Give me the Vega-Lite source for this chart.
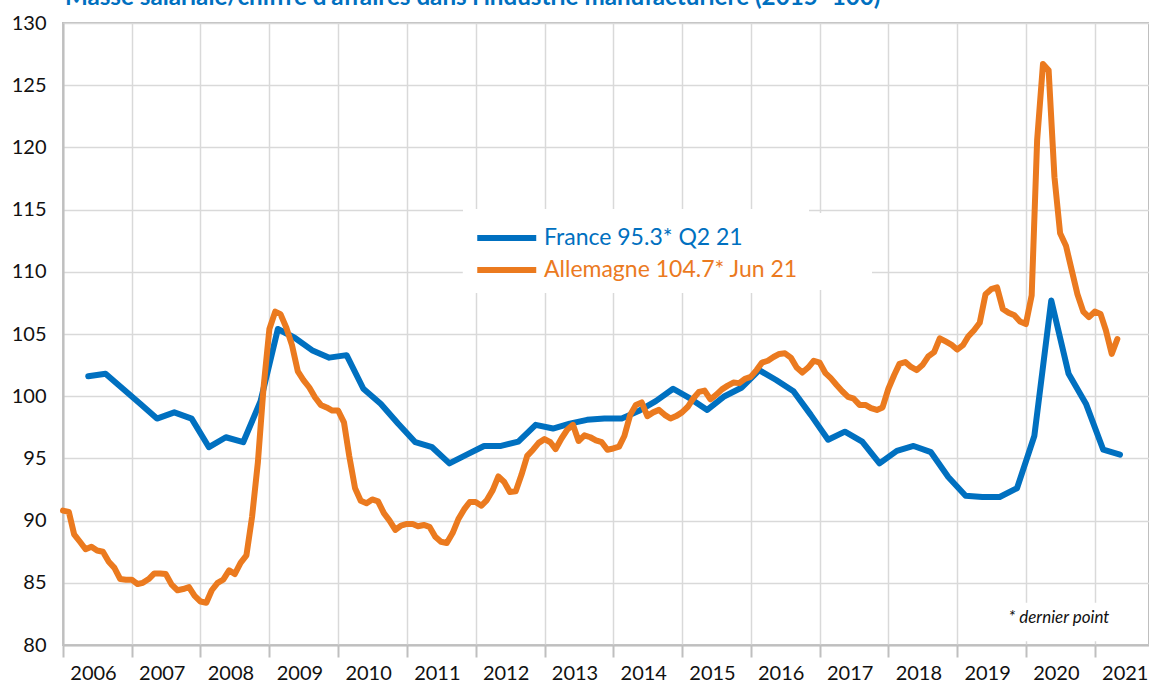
{
"$schema": "https://vega.github.io/schema/vega-lite/v6.json",
"width": 1086, "height": 622,
"autosize": {"type": "none"},
"padding": {"left": 63, "top": 23, "right": 0, "bottom": 38},
"background": "white",
"config": {"font": "Lato", "view": {"stroke": "#bfbfbf", "strokeWidth": 2}},
"data": {"values": [
{"d":"2006-05-15","s":"FR","v":101.6},{"d":"2006-08-15","s":"FR","v":101.8},{"d":"2006-11-15","s":"FR","v":100.6},
{"d":"2007-02-15","s":"FR","v":99.4},{"d":"2007-05-15","s":"FR","v":98.2},{"d":"2007-08-15","s":"FR","v":98.7},{"d":"2007-11-15","s":"FR","v":98.2},
{"d":"2008-02-15","s":"FR","v":95.9},{"d":"2008-05-15","s":"FR","v":96.7},{"d":"2008-08-15","s":"FR","v":96.3},{"d":"2008-11-15","s":"FR","v":99.6},
{"d":"2009-02-15","s":"FR","v":105.4},{"d":"2009-05-15","s":"FR","v":104.7},{"d":"2009-08-15","s":"FR","v":103.7},{"d":"2009-11-15","s":"FR","v":103.1},
{"d":"2010-02-15","s":"FR","v":103.3},{"d":"2010-05-15","s":"FR","v":100.6},{"d":"2010-08-15","s":"FR","v":99.4},{"d":"2010-11-15","s":"FR","v":97.8},
{"d":"2011-02-15","s":"FR","v":96.3},{"d":"2011-05-15","s":"FR","v":95.9},{"d":"2011-08-15","s":"FR","v":94.6},{"d":"2011-11-15","s":"FR","v":95.3},
{"d":"2012-02-15","s":"FR","v":96.0},{"d":"2012-05-15","s":"FR","v":96.0},{"d":"2012-08-15","s":"FR","v":96.35},{"d":"2012-11-15","s":"FR","v":97.7},
{"d":"2013-02-15","s":"FR","v":97.4},{"d":"2013-05-15","s":"FR","v":97.8},{"d":"2013-08-15","s":"FR","v":98.1},{"d":"2013-11-15","s":"FR","v":98.2},
{"d":"2014-02-15","s":"FR","v":98.2},{"d":"2014-05-15","s":"FR","v":98.8},{"d":"2014-08-15","s":"FR","v":99.6},{"d":"2014-11-15","s":"FR","v":100.6},
{"d":"2015-02-15","s":"FR","v":99.8},{"d":"2015-05-15","s":"FR","v":98.9},{"d":"2015-08-15","s":"FR","v":100.0},{"d":"2015-11-15","s":"FR","v":100.7},
{"d":"2016-02-15","s":"FR","v":102.1},{"d":"2016-05-15","s":"FR","v":101.3},{"d":"2016-08-15","s":"FR","v":100.4},{"d":"2016-11-15","s":"FR","v":98.5},
{"d":"2017-02-15","s":"FR","v":96.5},{"d":"2017-05-15","s":"FR","v":97.15},{"d":"2017-08-15","s":"FR","v":96.35},{"d":"2017-11-15","s":"FR","v":94.6},
{"d":"2018-02-15","s":"FR","v":95.6},{"d":"2018-05-15","s":"FR","v":96.0},{"d":"2018-08-15","s":"FR","v":95.5},{"d":"2018-11-15","s":"FR","v":93.5},
{"d":"2019-02-15","s":"FR","v":92.0},{"d":"2019-05-15","s":"FR","v":91.9},{"d":"2019-08-15","s":"FR","v":91.9},{"d":"2019-11-15","s":"FR","v":92.6},
{"d":"2020-02-15","s":"FR","v":96.8},{"d":"2020-05-15","s":"FR","v":107.7},{"d":"2020-08-15","s":"FR","v":101.8},{"d":"2020-11-15","s":"FR","v":99.4},
{"d":"2021-02-15","s":"FR","v":95.7},{"d":"2021-05-15","s":"FR","v":95.3},
{"d":"2006-01-01","s":"DE","v":90.8},{"d":"2006-02-01","s":"DE","v":90.7},{"d":"2006-03-01","s":"DE","v":88.9},{"d":"2006-04-01","s":"DE","v":88.3},{"d":"2006-05-01","s":"DE","v":87.7},{"d":"2006-06-01","s":"DE","v":87.9},{"d":"2006-07-01","s":"DE","v":87.6},{"d":"2006-08-01","s":"DE","v":87.5},{"d":"2006-09-01","s":"DE","v":86.7},{"d":"2006-10-01","s":"DE","v":86.2},{"d":"2006-11-01","s":"DE","v":85.3},{"d":"2006-12-01","s":"DE","v":85.25},
{"d":"2007-01-01","s":"DE","v":85.25},{"d":"2007-02-01","s":"DE","v":84.9},{"d":"2007-03-01","s":"DE","v":85.0},{"d":"2007-04-01","s":"DE","v":85.3},{"d":"2007-05-01","s":"DE","v":85.75},{"d":"2007-06-01","s":"DE","v":85.75},{"d":"2007-07-01","s":"DE","v":85.7},{"d":"2007-08-01","s":"DE","v":84.85},{"d":"2007-09-01","s":"DE","v":84.4},{"d":"2007-10-01","s":"DE","v":84.5},{"d":"2007-11-01","s":"DE","v":84.65},{"d":"2007-12-01","s":"DE","v":83.95},
{"d":"2008-01-01","s":"DE","v":83.5},{"d":"2008-02-01","s":"DE","v":83.4},{"d":"2008-03-01","s":"DE","v":84.4},{"d":"2008-04-01","s":"DE","v":85.0},{"d":"2008-05-01","s":"DE","v":85.25},{"d":"2008-06-01","s":"DE","v":86.0},{"d":"2008-07-01","s":"DE","v":85.7},{"d":"2008-08-01","s":"DE","v":86.6},{"d":"2008-09-01","s":"DE","v":87.2},{"d":"2008-10-01","s":"DE","v":90.3},{"d":"2008-11-01","s":"DE","v":94.7},{"d":"2008-12-01","s":"DE","v":100.7},
{"d":"2009-01-01","s":"DE","v":105.4},{"d":"2009-02-01","s":"DE","v":106.8},{"d":"2009-03-01","s":"DE","v":106.6},{"d":"2009-04-01","s":"DE","v":105.5},{"d":"2009-05-01","s":"DE","v":104.1},{"d":"2009-06-01","s":"DE","v":102.0},{"d":"2009-07-01","s":"DE","v":101.3},{"d":"2009-08-01","s":"DE","v":100.7},{"d":"2009-09-01","s":"DE","v":99.9},{"d":"2009-10-01","s":"DE","v":99.3},{"d":"2009-11-01","s":"DE","v":99.1},{"d":"2009-12-01","s":"DE","v":98.85},
{"d":"2010-01-01","s":"DE","v":98.85},{"d":"2010-02-01","s":"DE","v":97.9},{"d":"2010-03-01","s":"DE","v":95.2},{"d":"2010-04-01","s":"DE","v":92.6},{"d":"2010-05-01","s":"DE","v":91.6},{"d":"2010-06-01","s":"DE","v":91.4},{"d":"2010-07-01","s":"DE","v":91.7},{"d":"2010-08-01","s":"DE","v":91.55},{"d":"2010-09-01","s":"DE","v":90.6},{"d":"2010-10-01","s":"DE","v":90.0},{"d":"2010-11-01","s":"DE","v":89.25},{"d":"2010-12-01","s":"DE","v":89.6},
{"d":"2011-01-01","s":"DE","v":89.73},{"d":"2011-02-01","s":"DE","v":89.73},{"d":"2011-03-01","s":"DE","v":89.55},{"d":"2011-04-01","s":"DE","v":89.65},{"d":"2011-05-01","s":"DE","v":89.5},{"d":"2011-06-01","s":"DE","v":88.7},{"d":"2011-07-01","s":"DE","v":88.3},{"d":"2011-08-01","s":"DE","v":88.2},{"d":"2011-09-01","s":"DE","v":89.0},{"d":"2011-10-01","s":"DE","v":90.1},{"d":"2011-11-01","s":"DE","v":90.9},{"d":"2011-12-01","s":"DE","v":91.5},
{"d":"2012-01-01","s":"DE","v":91.5},{"d":"2012-02-01","s":"DE","v":91.2},{"d":"2012-03-01","s":"DE","v":91.65},{"d":"2012-04-01","s":"DE","v":92.45},{"d":"2012-05-01","s":"DE","v":93.55},{"d":"2012-06-01","s":"DE","v":93.1},{"d":"2012-07-01","s":"DE","v":92.3},{"d":"2012-08-01","s":"DE","v":92.35},{"d":"2012-09-01","s":"DE","v":93.7},{"d":"2012-10-01","s":"DE","v":95.2},{"d":"2012-11-01","s":"DE","v":95.7},{"d":"2012-12-01","s":"DE","v":96.25},
{"d":"2013-01-01","s":"DE","v":96.55},{"d":"2013-02-01","s":"DE","v":96.3},{"d":"2013-03-01","s":"DE","v":95.75},{"d":"2013-04-01","s":"DE","v":96.6},{"d":"2013-05-01","s":"DE","v":97.3},{"d":"2013-06-01","s":"DE","v":97.7},{"d":"2013-07-01","s":"DE","v":96.4},{"d":"2013-08-01","s":"DE","v":96.85},{"d":"2013-09-01","s":"DE","v":96.7},{"d":"2013-10-01","s":"DE","v":96.45},{"d":"2013-11-01","s":"DE","v":96.3},{"d":"2013-12-01","s":"DE","v":95.7},
{"d":"2014-01-01","s":"DE","v":95.8},{"d":"2014-02-01","s":"DE","v":95.95},{"d":"2014-03-01","s":"DE","v":96.8},{"d":"2014-04-01","s":"DE","v":98.5},{"d":"2014-05-01","s":"DE","v":99.3},{"d":"2014-06-01","s":"DE","v":99.5},{"d":"2014-07-01","s":"DE","v":98.4},{"d":"2014-08-01","s":"DE","v":98.7},{"d":"2014-09-01","s":"DE","v":98.9},{"d":"2014-10-01","s":"DE","v":98.5},{"d":"2014-11-01","s":"DE","v":98.2},{"d":"2014-12-01","s":"DE","v":98.4},
{"d":"2015-01-01","s":"DE","v":98.7},{"d":"2015-02-01","s":"DE","v":99.15},{"d":"2015-03-01","s":"DE","v":99.8},{"d":"2015-04-01","s":"DE","v":100.35},{"d":"2015-05-01","s":"DE","v":100.45},{"d":"2015-06-01","s":"DE","v":99.75},{"d":"2015-07-01","s":"DE","v":100.1},{"d":"2015-08-01","s":"DE","v":100.55},{"d":"2015-09-01","s":"DE","v":100.85},{"d":"2015-10-01","s":"DE","v":101.1},{"d":"2015-11-01","s":"DE","v":101.05},{"d":"2015-12-01","s":"DE","v":101.4},
{"d":"2016-01-01","s":"DE","v":101.55},{"d":"2016-02-01","s":"DE","v":102.1},{"d":"2016-03-01","s":"DE","v":102.7},{"d":"2016-04-01","s":"DE","v":102.85},{"d":"2016-05-01","s":"DE","v":103.15},{"d":"2016-06-01","s":"DE","v":103.4},{"d":"2016-07-01","s":"DE","v":103.45},{"d":"2016-08-01","s":"DE","v":103.1},{"d":"2016-09-01","s":"DE","v":102.3},{"d":"2016-10-01","s":"DE","v":101.9},{"d":"2016-11-01","s":"DE","v":102.3},{"d":"2016-12-01","s":"DE","v":102.85},
{"d":"2017-01-01","s":"DE","v":102.7},{"d":"2017-02-01","s":"DE","v":101.85},{"d":"2017-03-01","s":"DE","v":101.45},{"d":"2017-04-01","s":"DE","v":100.9},{"d":"2017-05-01","s":"DE","v":100.4},{"d":"2017-06-01","s":"DE","v":99.95},{"d":"2017-07-01","s":"DE","v":99.8},{"d":"2017-08-01","s":"DE","v":99.3},{"d":"2017-09-01","s":"DE","v":99.3},{"d":"2017-10-01","s":"DE","v":99.05},{"d":"2017-11-01","s":"DE","v":98.9},{"d":"2017-12-01","s":"DE","v":99.1},
{"d":"2018-01-01","s":"DE","v":100.6},{"d":"2018-02-01","s":"DE","v":101.7},{"d":"2018-03-01","s":"DE","v":102.6},{"d":"2018-04-01","s":"DE","v":102.75},{"d":"2018-05-01","s":"DE","v":102.35},{"d":"2018-06-01","s":"DE","v":102.1},{"d":"2018-07-01","s":"DE","v":102.5},{"d":"2018-08-01","s":"DE","v":103.2},{"d":"2018-09-01","s":"DE","v":103.55},{"d":"2018-10-01","s":"DE","v":104.65},{"d":"2018-11-01","s":"DE","v":104.4},{"d":"2018-12-01","s":"DE","v":104.15},
{"d":"2019-01-01","s":"DE","v":103.75},{"d":"2019-02-01","s":"DE","v":104.1},{"d":"2019-03-01","s":"DE","v":104.8},{"d":"2019-04-01","s":"DE","v":105.3},{"d":"2019-05-01","s":"DE","v":105.9},{"d":"2019-06-01","s":"DE","v":108.2},{"d":"2019-07-01","s":"DE","v":108.6},{"d":"2019-08-01","s":"DE","v":108.75},{"d":"2019-09-01","s":"DE","v":107.0},{"d":"2019-10-01","s":"DE","v":106.7},{"d":"2019-11-01","s":"DE","v":106.5},{"d":"2019-12-01","s":"DE","v":106.0},
{"d":"2020-01-01","s":"DE","v":105.8},{"d":"2020-02-01","s":"DE","v":108.1},{"d":"2020-03-01","s":"DE","v":120.6},{"d":"2020-04-01","s":"DE","v":126.7},{"d":"2020-05-01","s":"DE","v":126.2},{"d":"2020-06-01","s":"DE","v":117.6},{"d":"2020-07-01","s":"DE","v":113.1},{"d":"2020-08-01","s":"DE","v":112.1},{"d":"2020-09-01","s":"DE","v":110.1},{"d":"2020-10-01","s":"DE","v":108.2},{"d":"2020-11-01","s":"DE","v":106.8},{"d":"2020-12-01","s":"DE","v":106.35},
{"d":"2021-01-01","s":"DE","v":106.8},{"d":"2021-02-01","s":"DE","v":106.6},{"d":"2021-03-01","s":"DE","v":105.3},{"d":"2021-04-01","s":"DE","v":103.4},{"d":"2021-05-01","s":"DE","v":104.6}
]},
"encoding": {
  "x": {"field": "d", "type": "temporal",
    "scale": {"type": "utc", "domain": [{"year": 2006, "month": 1, "date": 1, "utc": true}, {"year": 2021, "month": 10, "date": 16, "utc": true}]},
    "axis": {"title": null, "format": "%Y", "formatType": "utc",
      "values": [{"year":2006,"month":1,"date":1,"utc":true},{"year":2007,"month":1,"date":1,"utc":true},{"year":2008,"month":1,"date":1,"utc":true},{"year":2009,"month":1,"date":1,"utc":true},{"year":2010,"month":1,"date":1,"utc":true},{"year":2011,"month":1,"date":1,"utc":true},{"year":2012,"month":1,"date":1,"utc":true},{"year":2013,"month":1,"date":1,"utc":true},{"year":2014,"month":1,"date":1,"utc":true},{"year":2015,"month":1,"date":1,"utc":true},{"year":2016,"month":1,"date":1,"utc":true},{"year":2017,"month":1,"date":1,"utc":true},{"year":2018,"month":1,"date":1,"utc":true},{"year":2019,"month":1,"date":1,"utc":true},{"year":2020,"month":1,"date":1,"utc":true},{"year":2021,"month":1,"date":1,"utc":true}],
      "grid": true, "gridColor": "#d9d9d9", "gridWidth": 1.5,
      "ticks": true, "tickSize": 12, "tickColor": "#bfbfbf", "tickWidth": 2,
      "domainColor": "#bfbfbf", "domainWidth": 2,
      "labelOffset": 30, "labelPadding": 6, "labelFont": "Lato", "labelFontSize": 20, "labelColor": "#111",
      "labelFlush": false, "labelOverlap": false, "labelBound": false}},
  "y": {"field": "v", "type": "quantitative",
    "scale": {"domain": [80, 130], "nice": false, "zero": false},
    "axis": {"title": null, "values": [80,85,90,95,100,105,110,115,120,125,130],
      "grid": true, "gridColor": "#d9d9d9", "gridWidth": 1.5, "ticks": false,
      "domainColor": "#bfbfbf", "domainWidth": 2,
      "labelPadding": 17, "labelFont": "Lato", "labelFontSize": 20, "labelColor": "#111"}}
},
"layer": [
  {"data": {"values": [{"d": "2006-01-11", "v": 131.45, "note": "Masse salariale/chiffre d'affaires dans l'industrie manufacturière (2015=100)"}]},
   "mark": {"type": "text", "font": "Lato", "fontWeight": "bold", "fontSize": 24.2, "align": "left", "baseline": "alphabetic", "color": "#0070C0", "clip": false},
   "encoding": {"text": {"field": "note"}}},
  {"data": {"values": [{"d": "2011-10-25", "d2": "2017-10-06", "v": 114.73, "v2": 108.54}, {"d": "2019-08-12", "d2": "2021-05-25", "v": 83.4, "v2": 80.3}]},
   "mark": {"type": "rect", "color": "white"},
   "encoding": {
     "x2": {"field": "d2"},
     "y2": {"field": "v2"}}},
  {"data": {"values": [{"d": "2019-10-01", "v": 82.2, "note": "* dernier point"}]},
   "mark": {"type": "text", "font": "Lato", "fontStyle": "italic", "fontSize": 17, "align": "left", "baseline": "middle", "color": "#111"},
   "encoding": {"text": {"field": "note"}}},
  {"transform": [{"filter": "datum.s === 'FR'"}],
   "mark": {"type": "line", "strokeWidth": 6, "strokeJoin": "round", "strokeCap": "round"},
   "encoding": {"color": {"field": "s", "type": "nominal",
     "scale": {"domain": ["FR", "DE"], "range": ["#0070C0", "#EB7A1F"]},
     "legend": {"title": null, "orient": "none", "legendX": 400, "legendY": 186, "direction": "vertical",
       "fillColor": "white", "padding": 11,
       "symbolType": "M-1,0H3", "symbolSize": 870, "symbolStrokeWidth": 6,
       "labelFont": "Lato", "labelFontSize": 23, "labelOffset": 34, "labelLimit": 500, "rowPadding": 2,
       "labelExpr": "datum.value === 'FR' ? 'France 95.3* Q2 21' : 'Allemagne 104.7* Jun 21'",
       "encode": {"labels": {"update": {"fill": {"scale": "color", "field": "value"}}}}}}}},
  {"transform": [{"filter": "datum.s === 'DE'"}],
   "mark": {"type": "line", "strokeWidth": 6, "strokeJoin": "round", "strokeCap": "round"},
   "encoding": {"color": {"field": "s", "type": "nominal",
     "scale": {"domain": ["FR", "DE"], "range": ["#0070C0", "#EB7A1F"]}}}}
]
}
